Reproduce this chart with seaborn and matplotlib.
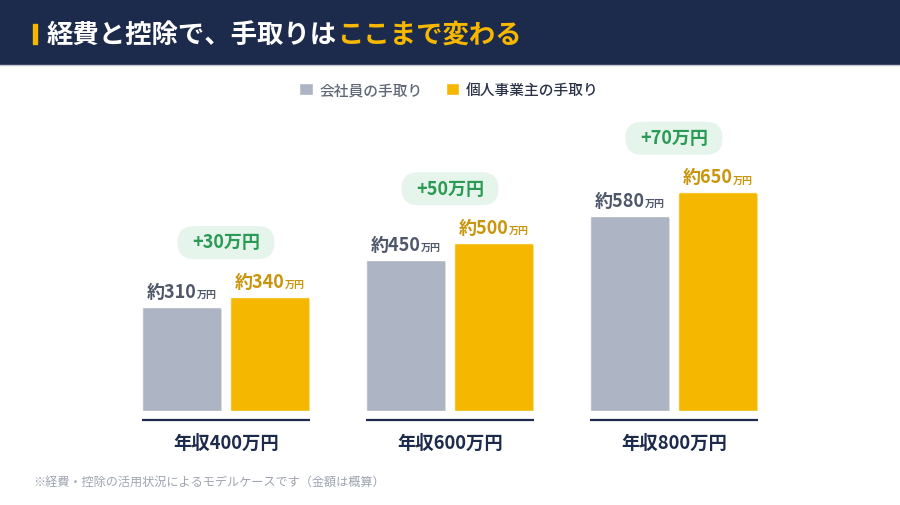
import matplotlib.pyplot as plt
import seaborn as sns
import pandas as pd
from matplotlib.patches import FancyBboxPatch, Rectangle
from matplotlib.lines import Line2D
from matplotlib.transforms import IdentityTransform

# data
incomes = ['年収400万円', '年収600万円', '年収800万円']
series = ['会社員の手取り', '個人事業主の手取り']
employee = [310, 450, 580]
freelance = [340, 500, 650]

NAVY = '#1c2a4b'
GRAY = '#adb4c4'
GOLD = '#f5b700'
GRAY_TXT = '#4f576a'
GOLD_TXT = '#c9950c'
GREEN = '#2a9a55'
PILL = '#e6f5ec'

df = pd.DataFrame({
    'income': incomes * 2,
    'value': employee + freelance,
    'type': [series[0]] * 3 + [series[1]] * 3,
})

sns.set_style('white')
plt.rcParams['font.family'] = ['Noto Sans CJK JP', 'DejaVu Sans']

fig = plt.figure(figsize=(9, 5.06), dpi=100)
H = 506
ax = fig.add_axes([0, 94 / H, 1, (441 - 94) / H])
ax.patch.set_alpha(0)

sns.barplot(data=df, x='income', y='value', hue='type', palette=[GRAY, GOLD],
            saturation=1, width=0.786, gap=0.102, ax=ax)

ax.set_xlim(-1.009, 3.009)
ax.set_ylim(0, 347 / 0.3365)
sns.despine(ax=ax, left=True, bottom=True)
ax.set_yticks([])
ax.set_xlabel('')
ax.set_ylabel('')
ax.tick_params(axis='x', length=0, pad=16, labelsize=13.2, labelcolor=NAVY)
for lbl in ax.get_xticklabels():
    lbl.set_fontweight('bold')

# round top corners of bars
r = 4
for bar in ax.patches:
    (x0, y0), (x1, y1) = ax.transData.transform([(bar.get_x(), bar.get_y()),
                                                 (bar.get_x() + bar.get_width(), bar.get_height())])
    clip = FancyBboxPatch((x0, y0 - 2 * r), x1 - x0, y1 - y0 + 2 * r,
                          boxstyle=f'round,pad=0,rounding_size={r}', transform=IdentityTransform())
    bar.set_clip_path(clip)

# baseline under each group
for i in range(len(incomes)):
    ax.hlines(-27, i - 0.373, i + 0.373, color=NAVY, lw=1.6, clip_on=False)

# value labels
for cont, color in zip(ax.containers, [GRAY_TXT, GOLD_TXT]):
    for bar in cont:
        v = bar.get_height()
        xc = bar.get_x() + bar.get_width() / 2
        big = ax.annotate(f'約{int(v)}', xy=(xc, v), xytext=(-7.5, 11), textcoords='offset points',
                          ha='center', va='center', fontsize=13, fontweight='bold', color=color)
        ax.annotate('万円', xy=(1, 0), xycoords=big, xytext=(0.5, 1.4), textcoords='offset points',
                    ha='left', va='bottom', fontsize=7.2, fontweight='bold', color=color)

# difference pills
for i, (a, b) in enumerate(zip(employee, freelance)):
    top = max(a, b)
    px, py = ax.transData.transform((i, top))
    cy = py + 54
    ax.add_patch(FancyBboxPatch((px - 48.5, cy - 16.5), 97, 33,
                                boxstyle='round,pad=0,rounding_size=16.5',
                                transform=IdentityTransform(), fc=PILL, ec='none', clip_on=False))
    ax.annotate(f'+{b - a}万円', xy=(i, top), xytext=(0, 54 * 0.72 + 0.5), textcoords='offset points',
                ha='center', va='center', fontsize=13, fontweight='bold', color=GREEN)

# legend
handles, labels = ax.get_legend_handles_labels()
leg = ax.legend(handles, labels, loc='center', bbox_to_anchor=(0.499, 1 - 91 / H),
                bbox_transform=fig.transFigure, ncol=2, frameon=False,
                prop={'size': 10.6, 'weight': 'medium'},
                handlelength=0.9, handleheight=0.9, handletextpad=0.45, columnspacing=1.6)
for txt, c in zip(leg.get_texts(), ['#5f6676', '#2b3348']):
    txt.set_color(c)

# header
fig.patches.append(Rectangle((0, 1 - 65 / H), 1, 65 / H, transform=fig.transFigure,
                             color=NAVY, zorder=-2))
fig.lines.append(Line2D([0, 1], [1 - 65.5 / H, 1 - 65.5 / H], transform=fig.transFigure,
                        color='#c3c8d2', lw=1, zorder=-1))
fig.patches.append(Rectangle((33 / 900, 1 - 45 / H), 4 / 900, 20 / H, transform=fig.transFigure,
                             color=GOLD, zorder=-1))
t1 = fig.text(47 / 900, 1 - 35 / H, '経費と控除で、手取りは', color='white', fontsize=19,
              fontweight='bold', va='center', ha='left')
ax.annotate('ここまで変わる', xy=(1, 0), xycoords=t1, ha='left', va='bottom', color=GOLD,
            fontsize=19, fontweight='bold', annotation_clip=False)

fig.text(33 / 900, 1 - 482 / H, '※経費・控除の活用状況によるモデルケースです（金額は概算）',
         color='#9ea4b0', fontsize=8.75, va='center', ha='left')

fig.savefig('out.png', dpi=100)
